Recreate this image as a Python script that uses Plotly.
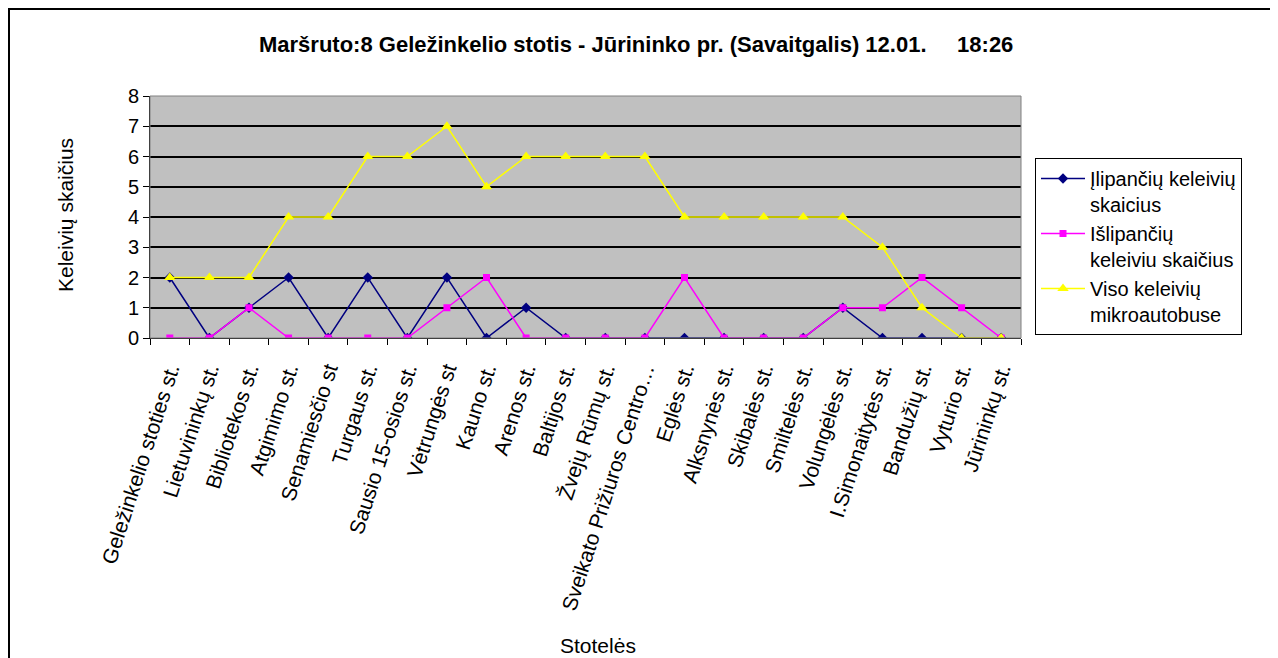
import plotly.graph_objects as go

stops = [
    "Geležinkelio stoties st.", "Lietuvininkų st.", "Bibliotekos st.", "Atgimimo st.",
    "Senamiesčio st", "Turgaus st.", "Sausio 15-osios st.", "Vėtrungės st",
    "Kauno st.", "Arenos st.", "Baltijos st.", "Žvejų Rūmų st.",
    "Sveikato Prižiuros Centro…", "Eglės st.", "Alksnynės st.", "Skibalės st.",
    "Smiltelės st.", "Volungėlės st.", "I.Simonaitytės st.", "Bandužių st.",
    "Vyturio st.", "Jūrininkų st.",
]
boarding = [2, 0, 1, 2, 0, 2, 0, 2, 0, 1, 0, 0, 0, 0, 0, 0, 0, 1, 0, 0, 0, 0]
alighting = [0, 0, 1, 0, 0, 0, 0, 1, 2, 0, 0, 0, 0, 2, 0, 0, 0, 1, 1, 2, 1, 0]
total = [2, 2, 2, 4, 4, 6, 6, 7, 5, 6, 6, 6, 6, 4, 4, 4, 4, 4, 3, 1, 0, 0]

OFF = 8  # page body margin
W, H = 1270, 650
L, R, T, B = 150 - OFF, 1021 - OFF, 96 - OFF, 338 - OFF
pw, ph = R - L, B - T


def px(x):
    return (x - OFF - L) / pw


def py(y):
    return (B - (y - OFF)) / ph


FONT = "Liberation Sans, Arial, sans-serif"

fig = go.Figure()
fig.add_trace(go.Scatter(
    x=stops, y=boarding, mode="lines+markers",
    name="Įlipančių keleivių<br>skaicius",
    line=dict(color="#000080", width=1.5),
    marker=dict(symbol="diamond", size=8, color="#000080"),
))
fig.add_trace(go.Scatter(
    x=stops, y=alighting, mode="lines+markers",
    name="Išlipančių<br>keleiviu skaičius",
    line=dict(color="#FF00FF", width=1.5),
    marker=dict(symbol="square", size=7, color="#FF00FF"),
))
fig.add_trace(go.Scatter(
    x=stops, y=total, mode="lines+markers",
    name="Viso keleivių<br>mikroautobuse",
    line=dict(color="#FFFF00", width=1.5),
    marker=dict(symbol="triangle-up", size=10, color="#FFFF00"),
))

fig.update_layout(
    width=W, height=H,
    margin=dict(l=L, r=W - R, t=T, b=H - B),
    paper_bgcolor="white",
    plot_bgcolor="#C0C0C0",
    font=dict(family=FONT, size=20, color="black"),
    showlegend=True,
    legend=dict(
        x=px(1035), y=py(158), xanchor="left", yanchor="top",
        bordercolor="black", borderwidth=1, bgcolor="white",
        font=dict(family=FONT, size=20, color="black"),
        valign="top", tracegroupgap=0, itemwidth=44,
    ),
    xaxis=dict(
        type="category", range=[-0.5, len(stops) - 0.5],
        tickangle=-72, tickfont=dict(family=FONT, size=21),
        ticks="outside", tickson="boundaries", ticklen=6, tickcolor="black",
        ticklabelstandoff=10,
        showline=True, linecolor="black", linewidth=1,
        showgrid=False, zeroline=False,
    ),
    yaxis=dict(
        range=[0, 8], dtick=1, tickfont=dict(family=FONT, size=20),
        ticks="outside", ticklen=6, tickcolor="black",
        showline=True, linecolor="black", linewidth=1,
        showgrid=True, gridcolor="black", gridwidth=1.5, zeroline=False,
    ),
    shapes=[
        dict(type="rect", xref="paper", yref="paper",
             x0=0, x1=1, y0=0, y1=1, line=dict(color="#808080", width=1)),
        dict(type="rect", xref="paper", yref="paper",
             x0=px(9), x1=px(1271), y0=py(700), y1=py(9),
             line=dict(color="black", width=2)),
    ],
    annotations=[
        dict(text="<b>Maršruto:8 Geležinkelio stotis - Jūrininko pr. (Savaitgalis) 12.01.\u00a0\u00a0\u00a0\u00a0 18:26</b>",
             xref="paper", yref="paper", x=px(636), y=py(44),
             xanchor="center", yanchor="middle", showarrow=False,
             font=dict(family=FONT, size=22)),
        dict(text="Keleivių skaičius", xref="paper", yref="paper",
             x=px(65), y=py(215), xanchor="center", yanchor="middle",
             textangle=-90, showarrow=False, font=dict(family=FONT, size=21)),
        dict(text="Stotelės", xref="paper", yref="paper",
             x=px(598), y=py(645), xanchor="center", yanchor="middle",
             showarrow=False, font=dict(family=FONT, size=21)),
    ],
)

fig.write_html("out.html")
